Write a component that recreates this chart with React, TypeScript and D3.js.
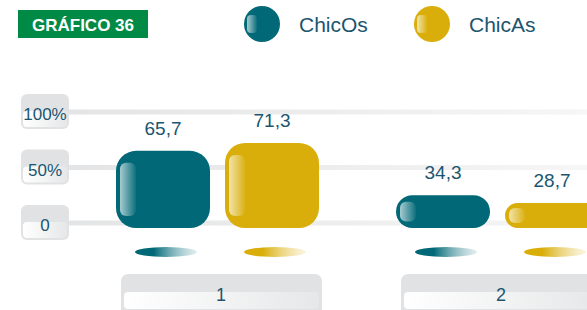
import { useRef, useEffect } from "react";
import * as d3 from "d3";

const categories = ["1", "2"];
const seriesNames = ["ChicOs", "ChicAs"];
const chicOs = [65.7, 34.3];
const chicAs = [71.3, 28.7];
const yTicks = [0, 50, 100];
const yTickLabels = ["0", "50%", "100%"];

const colors = { ChicOs: "#006876", ChicAs: "#d9ae0a" };
const light = { ChicOs: "#a9cdd2", ChicAs: "#f3e2a6" };
const textColor = "#1b5670";
const font = "'Liberation Sans', Arial, sans-serif";

const App = () => {
  const svgRef = useRef<SVGSVGElement>(null);

  useEffect(() => {
    const width = 587;
    const height = 310;
    const svg = d3.select(svgRef.current);
    svg.selectAll("*").remove();
    svg.attr("width", width).attr("height", height);

    const defs = svg.append("defs");

    // gradients
    const grid = defs.append("linearGradient").attr("id", "grid");
    grid.append("stop").attr("offset", "0%").attr("stop-color", "#e3e4e5");
    grid.append("stop").attr("offset", "100%").attr("stop-color", "#f6f6f6");

    const boxLow = defs.append("linearGradient").attr("id", "boxLow");
    boxLow.append("stop").attr("offset", "0%").attr("stop-color", "#ffffff");
    boxLow.append("stop").attr("offset", "100%").attr("stop-color", "#e6e7e8");

    seriesNames.forEach((s) => {
      const hl = defs.append("linearGradient").attr("id", `hl-${s}`);
      hl.append("stop").attr("offset", "0%").attr("stop-color", "#ffffff").attr("stop-opacity", 0.65);
      hl.append("stop").attr("offset", "100%").attr("stop-color", "#ffffff").attr("stop-opacity", 0.05);

      const sh = defs.append("linearGradient").attr("id", `sh-${s}`);
      sh.append("stop").attr("offset", "0%").attr("stop-color", colors[s]);
      sh.append("stop").attr("offset", "30%").attr("stop-color", colors[s]);
      sh.append("stop").attr("offset", "100%").attr("stop-color", light[s]).attr("stop-opacity", 0.35);
    });

    const data = seriesNames.map((s, i) => ({
      name: s,
      values: i === 0 ? chicOs : chicAs,
    }));

    // scales
    const x0 = d3.scaleBand().domain(categories).range([116, 676]);
    const x1 = d3.scaleBand().domain(seriesNames).range([0, 203]).paddingInner(15 / 109);
    const yGrid = d3.scaleLinear().domain([0, 100]).range([223, 112]);
    const yBar = d3.scaleLinear().domain([0, 100]).range([243.5, 102.5]);
    const barBottom = 228;

    // title
    svg.append("rect").attr("x", 18).attr("y", 10).attr("width", 130).attr("height", 28).attr("fill", "#008a45");
    svg.append("text")
      .attr("x", 83).attr("y", 30.5)
      .attr("text-anchor", "middle")
      .style("font-family", font).style("font-size", "17px").style("font-weight", "bold")
      .style("fill", "#fff")
      .text("GRÁFICO 36");

    // legend
    const legendX = [262, 432];
    seriesNames.forEach((s, i) => {
      const g = svg.append("g").attr("transform", `translate(${legendX[i]}, 24)`);
      g.append("circle").attr("r", 18).attr("fill", colors[s]);
      g.append("rect").attr("x", -15).attr("y", -9).attr("width", 10).attr("height", 18).attr("rx", 4)
        .attr("fill", `url(#hl-${s})`);
      g.append("text")
        .attr("x", 37).attr("y", 7.5)
        .style("font-family", font).style("font-size", "21px")
        .style("fill", textColor)
        .text(s);
    });

    // gridlines
    svg.selectAll(".grid")
      .data(yTicks)
      .join("rect")
      .attr("x", 66).attr("y", (d) => yGrid(d) - 2.5)
      .attr("width", width - 66).attr("height", 5)
      .attr("fill", "url(#grid)");

    // y label boxes
    const yl = svg.selectAll(".ylab").data(yTicks).join("g")
      .attr("transform", (d) => `translate(21, ${yGrid(d) - 18})`);
    yl.append("rect").attr("width", 48).attr("height", 35).attr("rx", 6).attr("fill", "#e1e2e4");
    yl.append("rect").attr("x", 2).attr("y", 17).attr("width", 44).attr("height", 16).attr("rx", 4).attr("fill", "url(#boxLow)");
    yl.append("text")
      .attr("x", 24).attr("y", 26)
      .attr("text-anchor", "middle")
      .style("font-family", font).style("font-size", "17px")
      .style("fill", textColor)
      .text((d, i) => yTickLabels[i]);

    // bars
    const groups = svg.selectAll(".grp").data(categories).join("g")
      .attr("transform", (c) => `translate(${x0(c)}, 0)`);

    data.forEach((s) => {
      groups.each(function (c, ci) {
        const g = d3.select(this);
        const v = s.values[ci];
        const bx = x1(s.name);
        const bw = x1.bandwidth();
        const top = yBar(v);
        const h = barBottom - top;
        const r = Math.min(20, h / 2);
        g.append("rect").attr("x", bx).attr("y", top).attr("width", bw).attr("height", h)
          .attr("rx", r).attr("fill", colors[s.name]);
        const inset = Math.min(12, h * 0.2);
        g.append("rect").attr("x", bx + 4).attr("y", top + inset).attr("width", 16).attr("height", h - inset * 2)
          .attr("rx", 6).attr("fill", `url(#hl-${s.name})`);
        g.append("text")
          .attr("x", bx + bw / 2).attr("y", top - 16)
          .attr("text-anchor", "middle")
          .style("font-family", font).style("font-size", "19px")
          .style("fill", textColor)
          .text(d3.format(".1f")(v).replace(".", ","));
        g.append("ellipse")
          .attr("cx", bx + bw / 2 + 3).attr("cy", 252).attr("rx", 31).attr("ry", 5)
          .attr("fill", `url(#sh-${s.name})`);
      });
    });

    // category boxes
    groups.append("rect").attr("x", 5).attr("y", 274).attr("width", 201).attr("height", 45).attr("rx", 7).attr("fill", "#e1e2e4");
    groups.append("rect").attr("x", 8).attr("y", 292).attr("width", 195).attr("height", 17).attr("rx", 4).attr("fill", "url(#boxLow)");
    groups.append("text")
      .attr("x", 105).attr("y", 301)
      .attr("text-anchor", "middle")
      .style("font-family", font).style("font-size", "18px")
      .style("fill", textColor)
      .text((c) => c);
  }, []);

  return <svg ref={svgRef} style={{ position: "absolute", left: 0, top: 0, display: "block" }}></svg>;
};

export default App;
